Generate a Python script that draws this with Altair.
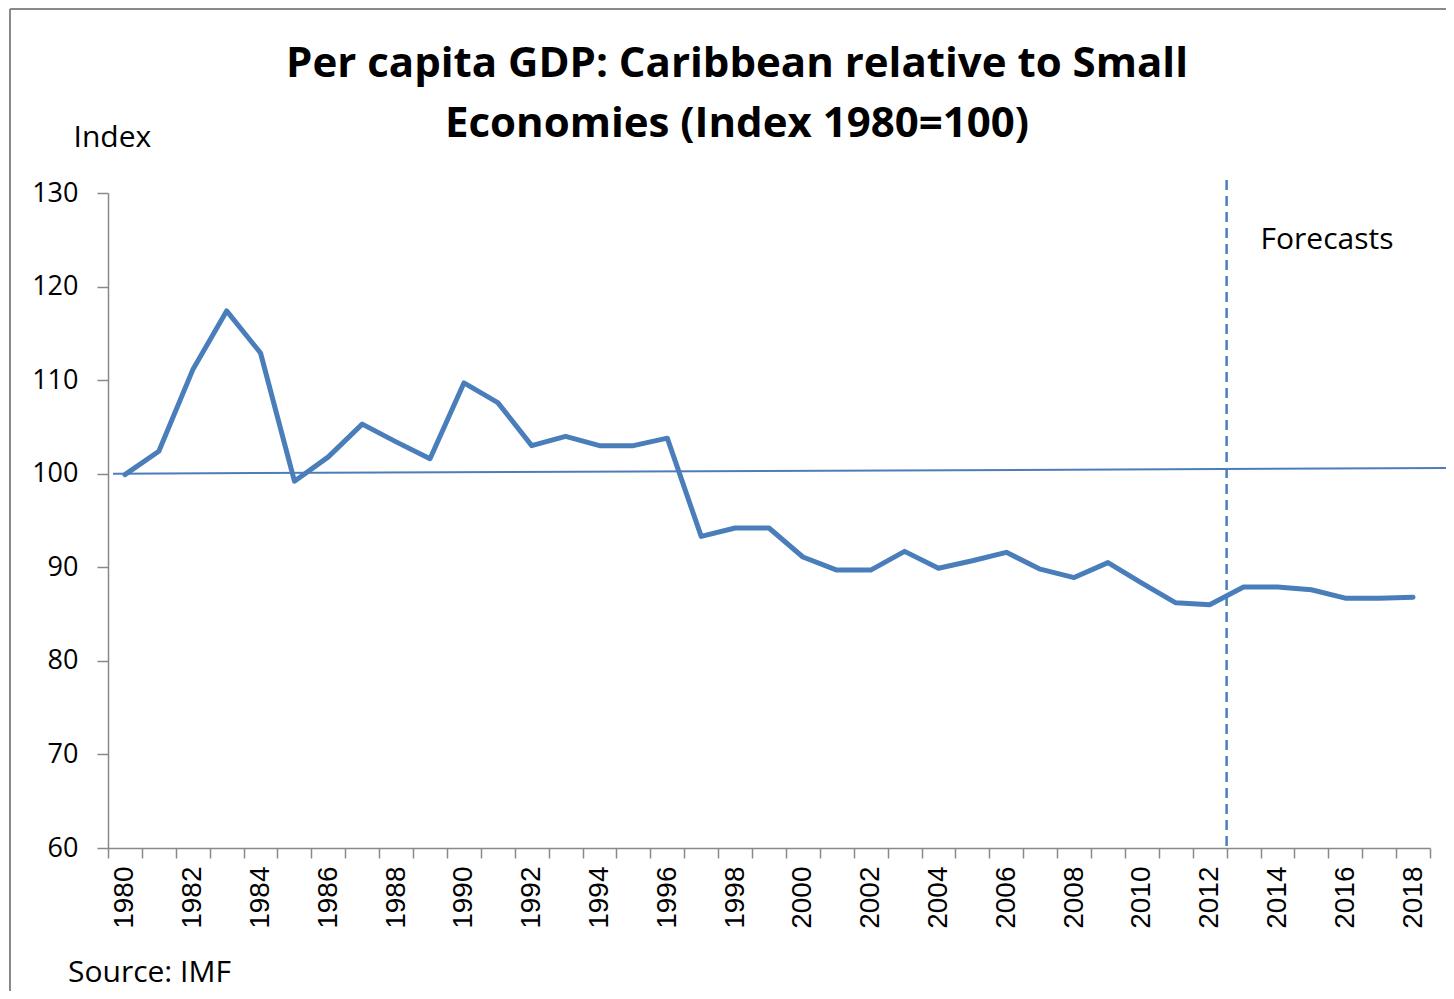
import altair as alt
import pandas as pd

# ---- data ----
years = list(range(1980, 2019))
index_values = [99.9, 102.4, 111.1, 117.4, 112.9, 99.2, 101.8, 105.3, 103.4, 101.6,
                109.7, 107.6, 103.0, 104.0, 103.0, 103.0, 103.8, 93.3, 94.2, 94.2,
                91.1, 89.7, 89.7, 91.7, 89.9, 90.7, 91.6, 89.8, 88.9, 90.5,
                88.3, 86.2, 86.0, 87.9, 87.9, 87.6, 86.7, 86.7, 86.8]
label_years = list(range(1980, 2019, 2))
boundaries = [y - 0.5 for y in range(1980, 2020)]
y_ticks = [60, 70, 80, 90, 100, 110, 120, 130]
baseline_x = [1979.65, 2019.0]
baseline_y = [100.0, 100.6]
forecast_x = 2012.5
forecast_y = [131.4, 60.0]
forecast_label = "Forecasts"
title_lines = ["Per capita GDP: Caribbean relative to Small", "Economies (Index 1980=100)"]
source_text = "Source: IMF"

BLUE = "#4A7EBB"
GRAY = "#898989"

df = pd.DataFrame({"year": years, "value": index_values})
xscale = alt.Scale(domain=[1979.5, 2018.5], nice=False, zero=False)
yscale = alt.Scale(domain=[60, 130], nice=False, zero=False)

x_axis = alt.Axis(
    values=sorted(boundaries + label_years),
    labelExpr="(datum.value % 2 === 0) ? format(datum.value, 'd') : ''",
    tickOpacity={"condition": {"test": "datum.value % 1 !== 0", "value": 1}, "value": 0},
    tickSize=10, tickColor=GRAY, tickWidth=1.5,
    domainColor=GRAY, domainWidth=1.5, grid=False,
    labelAngle=-90, labelFont="Liberation Sans", labelFontSize=28, labelColor="#000",
    labelPadding=8, labelOverlap=False, labelFlush=False, labelBound=False, title=None,
)
y_axis = alt.Axis(
    values=y_ticks, grid=False, tickSize=11, tickColor=GRAY, tickWidth=1.5,
    domainColor=GRAY, domainWidth=1.5,
    labelFont="Open Sans", labelFontSize=27, labelColor="#000", labelPadding=19,
    title="Index", titleAngle=0, titleAlign="left", titleBaseline="middle",
    titleX=-35, titleY=-56, titleFont="Open Sans", titleFontSize=30,
    titleFontWeight="normal", titleColor="#000",
)


def X(field="year"):
    return alt.X(f"{field}:Q", scale=xscale, axis=x_axis)


def Y(field="value"):
    return alt.Y(f"{field}:Q", scale=yscale, axis=y_axis)


line = alt.Chart(df).mark_line(
    color=BLUE, strokeWidth=5, strokeJoin="round", strokeCap="round"
).encode(x=X(), y=Y())

base_df = pd.DataFrame({"year": [baseline_x[0]], "year2": [baseline_x[1]],
                        "value": [baseline_y[0]], "value2": [baseline_y[1]]})
baseline = alt.Chart(base_df).mark_rule(color=BLUE, strokeWidth=2, clip=False).encode(
    x=X(), x2="year2:Q", y=Y(), y2="value2:Q",
)

fc_df = pd.DataFrame({"year": [forecast_x], "value": [forecast_y[0]], "value2": [forecast_y[1]]})
forecast_rule = alt.Chart(fc_df).mark_rule(
    color=BLUE, strokeWidth=2.5, strokeDash=[10, 6], clip=False
).encode(x=X(), y=Y(), y2="value2:Q")

fc_text_df = pd.DataFrame({"year": [forecast_x + 1.0], "value": [125.0], "t": [forecast_label]})
forecast_text = alt.Chart(fc_text_df).mark_text(
    align="left", baseline="middle", font="Open Sans", fontSize=30, color="#000"
).encode(x=X(), y=Y(), text="t:N")

src_df = pd.DataFrame({"t": [source_text]})
source = alt.Chart(src_df).mark_text(
    align="left", baseline="middle", font="Open Sans", fontSize=30, color="#000", clip=False
).encode(x=alt.value(-40), y=alt.value(780), text="t:N")

frame_df = pd.DataFrame({"a": [0]})
frame_left = alt.Chart(frame_df).mark_rule(color=GRAY, strokeWidth=2).encode(
    x=alt.value(-98), y=alt.value(-184), y2=alt.value(798))
frame_top = alt.Chart(frame_df).mark_rule(color=GRAY, strokeWidth=2).encode(
    x=alt.value(-98), x2=alt.value(1338), y=alt.value(-184))

chart = alt.layer(
    line, baseline, forecast_rule, forecast_text, source, frame_left, frame_top
).properties(
    width=1322, height=655,
    title=alt.TitleParams(
        text=title_lines, font="Open Sans", fontSize=42, fontWeight="bold", color="#000",
        lineHeight=60, anchor="middle", frame="group", dx=-32, dy=138, offset=0,
    ),
    autosize=alt.AutoSizeParams(type="none"),
    padding={"left": 100, "top": 185, "right": 16, "bottom": 143},
).configure(background="white").configure_view(stroke=None)

chart.save("out.html", embed_options={"renderer": "svg", "actions": False})
